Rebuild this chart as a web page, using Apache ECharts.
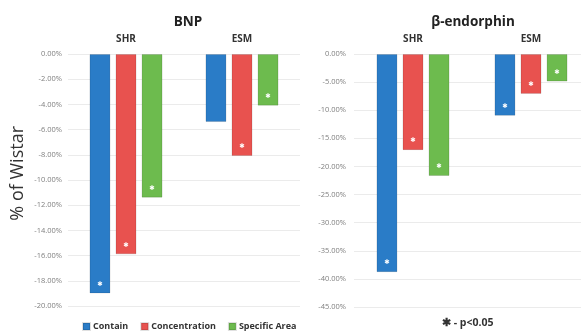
<!DOCTYPE html>
<html>
<head>
<meta charset="utf-8">
<script src="https://cdn.jsdelivr.net/npm/echarts@6/dist/echarts.min.js"></script>
<style>
  html, body { margin: 0; padding: 0; background: #fff; overflow: hidden; }
  #chart { width: 590px; height: 333px; }
</style>
</head>
<body>
<div id="chart"></div>
<script>
// Groups along each panel's category axis
var groups = ['SHR', 'ESM'];
var seriesNames = ['Contain', 'Concentration', 'Specific Area'];
var colors = ['#2a7cc7', '#e8524f', '#6dbb4e'];

// BNP, % change relative to Wistar
var bnpContain = [-19.0, -5.4];
var bnpConcentration = [-15.9, -8.1];
var bnpSpecificArea = [-11.4, -4.1];
var bnpSignificant = [[true, false], [true, true], [true, true]];

// beta-endorphin, % change relative to Wistar
var endContain = [-38.8, -11.0];
var endConcentration = [-17.1, -7.1];
var endSpecificArea = [-21.7, -4.9];
var endSignificant = [[true, true], [true, true], [true, true]];

// Value axis settings per panel
var bnpAxis = { min: -20, max: 0, interval: 2 };
var endAxis = { min: -45, max: 0, interval: 5 };

var FONT = '"Open Sans", "Liberation Sans", sans-serif';

function withStars(values, sig) {
  return values.map(function (v, i) {
    return sig[i] ? { value: v, label: { show: true } } : { value: v };
  });
}

function barSeries(name, values, sig, idx, color) {
  return {
    type: 'bar',
    name: name,
    xAxisIndex: idx,
    yAxisIndex: idx,
    data: withStars(values, sig),
    barWidth: 21,
    barGap: '24%',
    itemStyle: { color: color, borderColor: 'rgba(0,0,0,0.12)', borderWidth: 1 },
    label: {
      show: false,
      position: 'insideBottom',
      distance: 6,
      formatter: '\u2731',
      color: '#ffffff',
      fontSize: 6.5,
      fontFamily: 'DejaVu Sans'
    },
    emphasis: { disabled: true }
  };
}

function valueAxis(idx, cfg) {
  return {
    type: 'value',
    gridIndex: idx,
    min: cfg.min,
    max: cfg.max,
    interval: cfg.interval,
    axisLine: { show: false },
    axisTick: { show: false },
    splitLine: { lineStyle: { color: '#ebebeb', width: 1 } },
    axisLabel: {
      margin: idx === 0 ? 6 : 8,
      color: '#7f7f7f',
      fontSize: 7.5,
      fontFamily: FONT,
      formatter: function (v) { return v.toFixed(2) + '%'; }
    }
  };
}

function categoryAxis(idx) {
  return {
    type: 'category',
    gridIndex: idx,
    data: groups,
    position: 'top',
    axisLine: { show: false },
    axisTick: { show: false },
    axisLabel: {
      margin: 10,
      color: '#333',
      fontSize: 10,
      fontWeight: 'bold',
      fontFamily: FONT
    }
  };
}

var chart = echarts.init(document.getElementById('chart'), null, { renderer: 'canvas' });

chart.setOption({
  animation: false,
  backgroundColor: '#ffffff',
  color: colors,
  title: [
    { text: 'BNP', left: 183, top: 10, textAlign: 'center',
      textStyle: { fontSize: 13.5, fontWeight: 'bold', color: '#222', fontFamily: FONT } },
    { text: '\u03b2-endorphin', left: 468, top: 10, textAlign: 'center',
      textStyle: { fontSize: 13.5, fontWeight: 'bold', color: '#222', fontFamily: FONT } }
  ],
  grid: [
    { left: 68, top: 54, width: 232, height: 252 },
    { left: 354, top: 54, width: 236, height: 253 }
  ],
  xAxis: [categoryAxis(0), categoryAxis(1)],
  yAxis: [valueAxis(0, bnpAxis), valueAxis(1, endAxis)],
  legend: {
    data: seriesNames,
    left: 77,
    top: 317,
    itemWidth: 7,
    itemHeight: 7,
    itemGap: 12,
    icon: 'rect',
    textStyle: { fontSize: 9, fontWeight: 'bold', color: '#333', fontFamily: FONT, padding: [0, 0, 0, -2] }
  },
  graphic: [
    {
      type: 'text',
      left: 9,
      top: 126,
      rotation: Math.PI / 2,
      originX: 0,
      originY: 0,
      style: {
        text: '% of Wistar',
        fontSize: 18,
        fill: '#333',
        fontFamily: FONT
      }
    },
    {
      type: 'text',
      left: 442,
      top: 318,
      style: {
        text: '\u2731 - p<0.05',
        fontSize: 10.5,
        fontWeight: 'bold',
        fill: '#333',
        fontFamily: FONT
      }
    }
  ],
  series: [
    barSeries(seriesNames[0], bnpContain, bnpSignificant[0], 0, colors[0]),
    barSeries(seriesNames[1], bnpConcentration, bnpSignificant[1], 0, colors[1]),
    barSeries(seriesNames[2], bnpSpecificArea, bnpSignificant[2], 0, colors[2]),
    barSeries(seriesNames[0], endContain, endSignificant[0], 1, colors[0]),
    barSeries(seriesNames[1], endConcentration, endSignificant[1], 1, colors[1]),
    barSeries(seriesNames[2], endSpecificArea, endSignificant[2], 1, colors[2])
  ]
});
</script>
</body>
</html>
